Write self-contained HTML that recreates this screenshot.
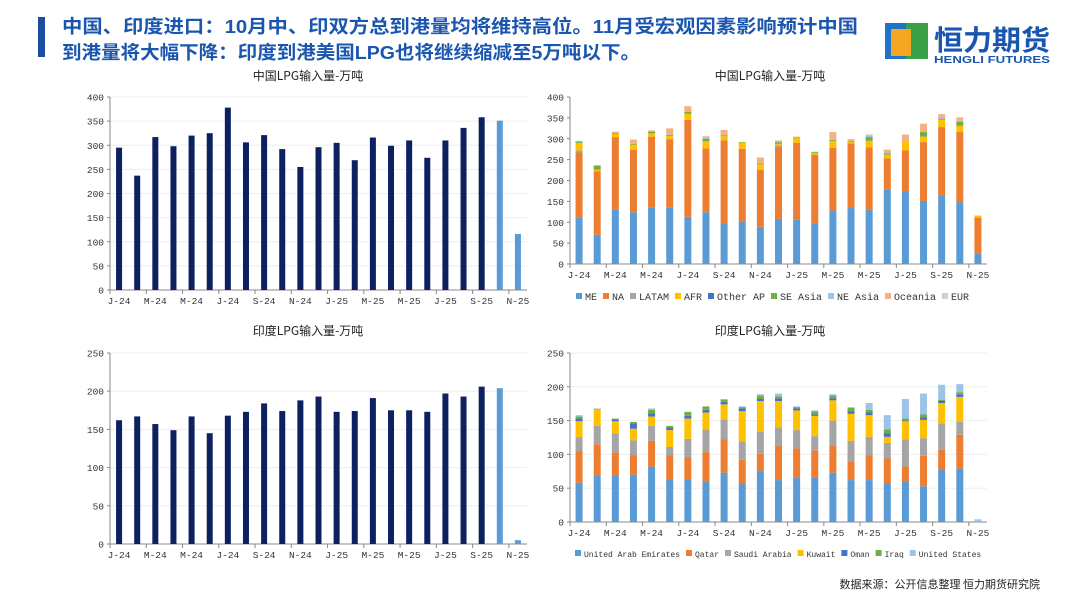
<!DOCTYPE html>
<html><head><meta charset="utf-8"><style>
body{margin:0;width:1080px;height:608px;background:#fff;overflow:hidden;font-family:"Liberation Sans","Noto Sans CJK SC",sans-serif;}
svg text{font-family:"Liberation Mono","Noto Sans CJK SC",monospace;}
</style></head><body>
<svg id="s" width="1080" height="608" xmlns="http://www.w3.org/2000/svg">
<rect x="38" y="17" width="7" height="40" fill="#1a4fa0"/>
<text x="62" y="33" font-size="18.5" font-weight="bold" fill="#1a56b0" textLength="796" lengthAdjust="spacingAndGlyphs" style="font-family:'Liberation Sans','Noto Sans CJK SC',sans-serif">中国、印度进口：10月中、印双方总到港量均将维持高位。11月受宏观因素影响预计中国</text>
<text x="62" y="59" font-size="18.5" font-weight="bold" fill="#1a56b0" textLength="578" lengthAdjust="spacingAndGlyphs" style="font-family:'Liberation Sans','Noto Sans CJK SC',sans-serif">到港量将大幅下降：印度到港美国LPG也将继续缩减至5万吨以下。</text>
<g>
<rect x="885" y="23" width="21" height="36" fill="#1e73c8"/><rect x="906" y="23" width="22" height="36" fill="#3aa048"/>
<rect x="891" y="29" width="20" height="27" fill="#f5a623"/>
<text x="934" y="50" font-size="28" font-weight="bold" fill="#1a56b0" textLength="116" lengthAdjust="spacingAndGlyphs" style="font-family:'Noto Sans CJK SC',sans-serif">恒力期货</text>
<text x="934" y="63" font-size="10" font-weight="bold" fill="#1a56b0" textLength="116" lengthAdjust="spacingAndGlyphs" style="font-family:'Liberation Sans',sans-serif">HENGLI FUTURES</text>
</g>
<text x="308" y="80" font-size="12" text-anchor="middle" fill="#222" style="font-family:'Noto Sans CJK SC',sans-serif">中国LPG输入量-万吨</text>
<text x="770" y="80" font-size="12" text-anchor="middle" fill="#222" style="font-family:'Noto Sans CJK SC',sans-serif">中国LPG输入量-万吨</text>
<text x="308" y="335" font-size="12" text-anchor="middle" fill="#222" style="font-family:'Noto Sans CJK SC',sans-serif">印度LPG输入量-万吨</text>
<text x="770" y="335" font-size="12" text-anchor="middle" fill="#222" style="font-family:'Noto Sans CJK SC',sans-serif">印度LPG输入量-万吨</text>
<text x="1040" y="588" font-size="11" text-anchor="end" fill="#222" style="font-family:'Noto Sans CJK SC',sans-serif">数据来源：公开信息整理  恒力期货研究院</text>
</svg>
<script>
const tickLabels=["J-24","M-24","M-24","J-24","S-24","N-24","J-25","M-25","M-25","J-25","S-25","N-25"];
const chinaTotal=[295,237,317,298,320,325,378,306,321,292,255,296,305,269,316,299,310,274,310,336,358,351,116];
const indiaTotal=[162,167,157,149,167,145,168,173,184,174,188,193,173,174,191,175,175,173,197,193,206,204,5];
const forecastCount=2;
const cnSeries=["ME","NA","LATAM","AFR","Other AP","SE Asia","NE Asia","Oceania","EUR"];
const cnME=[112,70,131,124,135,135,113,124,98,102,89,108,106,96,128,134,131,179,175,151,165,148,26];
const cnNA=[155,152,173,149,170,164,232,153,198,174,136,172,184,165,150,155,148,74,97,141,163,168,85];
const cnLATAM=[5,0,0,0,0,0,0,0,0,0,0,4,0,0,0,0,0,0,0,0,0,0,0];
const cnAFR=[18,4,8,13,8,8,15,17,10,15,14,4,12,5,17,3,16,9,21,13,17,15,5];
const cnOtherAP=[0,0,0,0,0,0,0,0,0,0,0,0,0,0,0,0,0,0,0,0,0,0,0];
const cnSEAsia=[3,9,2,2,4,2,5,6,2,1,2,4,1,2,2,2,9,3,1,11,2,10,0];
const cnNEAsia=[2,1,0,0,0,2,1,3,0,0,1,1,1,1,2,0,3,2,0,0,5,2,0];
const cnOceania=[0,1,3,10,3,14,12,3,13,0,13,3,1,0,17,5,3,7,16,20,7,8,0];
const cnEUR=[0,0,0,0,0,0,0,0,0,0,0,0,0,0,0,0,0,0,0,0,0,0,0];
const inSeries=["United Arab Emirates","Qatar","Saudi Arabia","Kuwait","Oman","Iraq","United States"];
const inUAE=[58,69,69,70,82,63,63,60,73,57,76,62,66,66,73,62,62,57,60,53,77,79,0];
const inQatar=[47,46,34,29,38,36,33,44,49,35,25,51,43,40,40,28,37,37,22,45,30,50,0];
const inSaudi=[20,27,28,22,22,12,27,33,30,27,33,27,27,21,37,30,27,23,40,26,39,19,0];
const inKuwait=[24,24,18,17,14,25,30,25,22,45,45,39,29,30,30,40,32,9,27,27,30,37,0];
const inOman=[4,0,3,8,5,4,4,4,4,4,3,4,3,2,3,4,4,5,1,4,3,4,0];
const inIraq=[3,1,1,2,5,2,6,5,3,2,5,3,2,5,4,5,4,6,3,4,2,3,0];
const inUS=[2,1,0,0,2,0,0,0,1,1,2,4,1,1,2,1,10,21,29,31,22,12,4];
const cnColors=["#5b9bd5","#ed7d31","#a5a5a5","#ffc000","#4472c4","#70ad47","#9dc3e6","#f4b183","#d0d0d0"];
const inColors=["#5b9bd5","#ed7d31","#a5a5a5","#ffc000","#4472c4","#70ad47","#9dc3e6"];
const NS="http://www.w3.org/2000/svg";
const svg=document.getElementById('s');
function mk(t,a,p){const e=document.createElementNS(NS,t);for(const k in a)e.setAttribute(k,a[k]);(p||svg).appendChild(e);return e;}
function chart(o){
  const g=mk('g',{});
  
  
  const n=o.n, step=(o.x1-o.x0)/n;
  const xc=i=>o.x0+step*(i+0.5);
  const y=v=>o.yb-(v/o.max)*(o.yb-o.yt);
  for(let v=0;v<=o.max;v+=o.step){
    if(v>0&&o.grid){const gl=mk('line',{x1:o.x0,x2:o.x1,y1:y(v),y2:y(v),stroke:'#eeeeee','stroke-width':1},g);}
    const t=mk('text',{x:o.x0-6,y:y(v)+3.5,'font-size':9.5,'text-anchor':'end',fill:'#333'},g);t.textContent=v;
    
    
    mk('line',{x1:o.x0-3,x2:o.x0,y1:y(v),y2:y(v),stroke:'#888'},g);
  }
  mk('line',{x1:o.x0,x2:o.x0,y1:o.yt,y2:o.yb,stroke:'#888'},g);
  mk('line',{x1:o.x0,x2:o.x1,y1:o.yb,y2:o.yb,stroke:'#888'},g);
  for(let i=0;i<=n;i+=2)mk('line',{x1:o.x0+step*i,x2:o.x0+step*i,y1:o.yb,y2:o.yb+4,stroke:'#888'},g);
  tickLabels.forEach((l,k)=>{const t=mk('text',{x:xc(k*2),y:o.yb+14,'font-size':9.5,'text-anchor':'middle',fill:'#333'},g);t.textContent=l;
    
    });
  for(let i=0;i<n;i++){
    let acc=0;
    o.series.forEach((s,si)=>{const v=s[i];if(v<=0)return;
      const col=o.colors?o.colors[si]:(i>=n-forecastCount?'#5b9bd5':'#0d2161');
      const r=mk('rect',{x:xc(i)-o.bw/2,y:y(acc+v),width:o.bw,height:y(acc)-y(acc+v),fill:col},g);
      
      
      acc+=v;});
  }
  if(o.legend){let lx=o.legendX;o.legend.forEach((nm,k)=>{
    mk('rect',{x:lx,y:o.legendY-7,width:6,height:6,fill:o.colors[k]},g);
    const t=mk('text',{x:lx+9,y:o.legendY,'font-size':o.lfs,fill:'#333'},g);t.textContent=nm;
    
    
    lx+=9+nm.length*o.lfs*0.6+o.gap;});}
}
chart({name:'china-total-chart',x0:110,x1:527,yt:97,yb:290,max:400,step:50,n:23,bw:6,series:[chinaTotal],grid:true});
chart({name:'india-total-chart',x0:110,x1:527,yt:353,yb:544,max:250,step:50,n:23,bw:6,series:[indiaTotal],grid:true});
chart({name:'china-by-origin-chart',x0:570,x1:987,yt:97,yb:264,max:400,step:50,n:23,bw:7,
  series:[cnME,cnNA,cnLATAM,cnAFR,cnOtherAP,cnSEAsia,cnNEAsia,cnOceania,cnEUR],colors:cnColors,legend:cnSeries,legendX:576,legendY:300,lfs:10,gap:6});
chart({name:'india-by-origin-chart',x0:570,x1:987,yt:353,yb:522,max:250,step:50,n:23,bw:7,grid:true,
  series:[inUAE,inQatar,inSaudi,inKuwait,inOman,inIraq,inUS],colors:inColors,legend:inSeries,legendX:575,legendY:557,lfs:8,gap:6});
</script>
</body></html>
